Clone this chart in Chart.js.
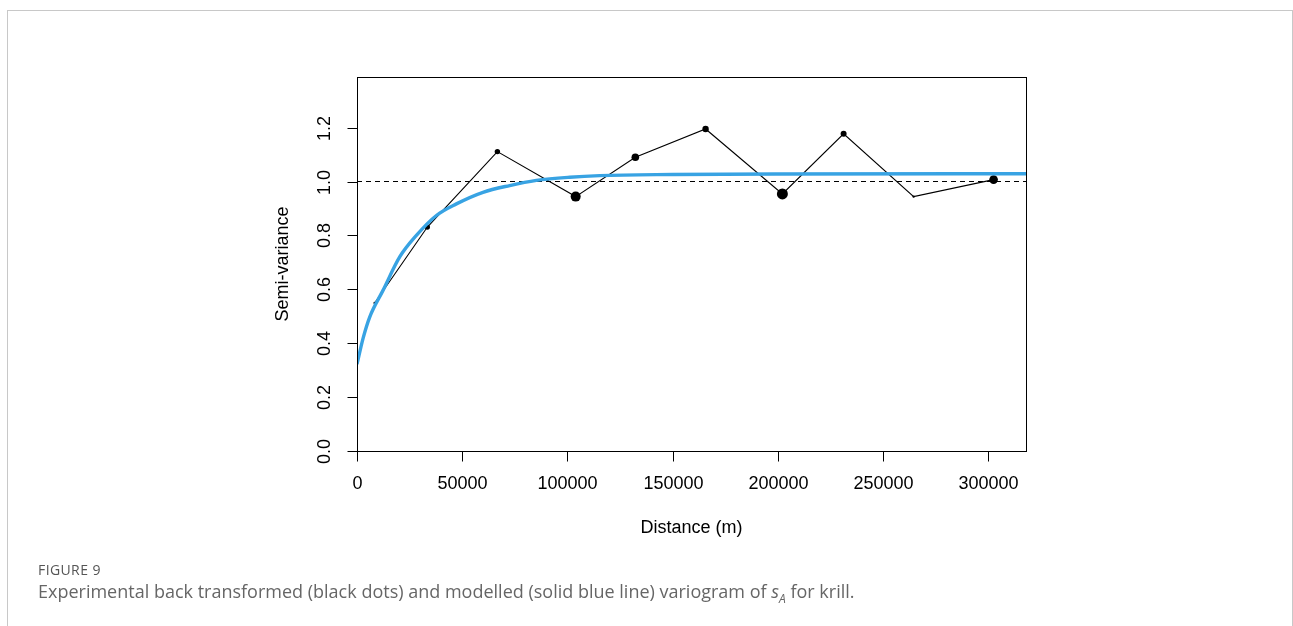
<!DOCTYPE html>
<html><head><meta charset="utf-8">
<script src="https://cdn.jsdelivr.net/npm/chart.js@4.4.0/dist/chart.umd.min.js"></script>
<style>
html,body{margin:0;padding:0;background:#fff;width:1293px;height:626px;overflow:hidden}
#frame{position:absolute;left:7px;top:10px;width:1286px;height:660px;border:1px solid #c8c8c8;box-sizing:border-box}
#c{position:absolute;left:0;top:0}
#fig{position:absolute;left:38px;top:560px;font:14px "Open Sans";color:#555;letter-spacing:0.4px}
#cap{position:absolute;left:38px;top:579px;font:18px "Open Sans";color:#666;white-space:nowrap}
</style>
</head><body>
<div id="frame"></div>
<canvas id="c" width="1293" height="626"></canvas>
<div id="fig">FIGURE 9</div>
<div id="cap">Experimental back transformed (black dots) and modelled (solid blue line) variogram of <i>s</i><sub style="font-size:12px"><i>A</i></sub> for krill.</div>
<script>
// Experimental variogram (distance m, semi-variance)
const expDistance = [8400, 33460, 66730, 103950, 132300, 165700, 202200, 231300, 264600, 302600];
const expSemiVar  = [0.549, 0.831, 1.111, 0.944, 1.090, 1.195, 0.954, 1.177, 0.944, 1.007];
// Modelled variogram
const modDistance = [0, 2850, 6040, 12360, 20300, 28230, 37740, 47240, 59890, 72580, 85270, 101100, 115350, 150000, 200000, 318000];
const modSemiVar  = [0.322, 0.417, 0.497, 0.596, 0.720, 0.800, 0.874, 0.917, 0.960, 0.985, 1.004, 1.016, 1.022, 1.026, 1.028, 1.029];
// Sill reference
const refLevel = 1.0;
const xTicks = [0, 50000, 100000, 150000, 200000, 250000, 300000];
const yTicks = [0.0, 0.2, 0.4, 0.6, 0.8, 1.0, 1.2];
const yTickLabels = ["0.0", "0.2", "0.4", "0.6", "0.8", "1.0", "1.2"];
const xRange = [0, 318000];
const yRange = [0, 1.3878];
// point sizes (relative number of pairs)
const pointRadii = [1.2, 2.6, 2.7, 5, 3.8, 3.2, 5.5, 3, 1.2, 4.3];

const FONT = '18px "Liberation Sans", Arial, sans-serif';

const rAxes = {
  id: 'rAxes',
  afterDraw(chart) {
    const ctx = chart.ctx, a = chart.chartArea;
    const xs = chart.scales.x, ys = chart.scales.y;
    ctx.save();
    ctx.strokeStyle = '#000';
    ctx.lineWidth = 1;
    ctx.strokeRect(Math.round(a.left) + 0.5, Math.round(a.top) + 0.5,
                   Math.round(a.right - a.left), Math.round(a.bottom - a.top));
    ctx.fillStyle = '#000';
    ctx.font = FONT;
    ctx.textAlign = 'center';
    ctx.textBaseline = 'middle';
    const bottom = Math.round(a.bottom) + 0.5;
    xTicks.forEach(v => {
      const px = Math.round(xs.getPixelForValue(v)) + 0.5;
      ctx.beginPath(); ctx.moveTo(px, bottom); ctx.lineTo(px, bottom + 10); ctx.stroke();
      ctx.fillText(String(v), px, bottom + 33);
    });
    const left = Math.round(a.left) + 0.5;
    yTicks.forEach((v, i) => {
      const py = Math.round(ys.getPixelForValue(v)) + 0.5;
      ctx.beginPath(); ctx.moveTo(left - 10, py); ctx.lineTo(left, py); ctx.stroke();
      ctx.save();
      ctx.translate(left - 32, py);
      ctx.rotate(-Math.PI / 2);
      ctx.fillText(yTickLabels[i], 0, 0);
      ctx.restore();
    });
    ctx.fillText('Distance (m)', (a.left + a.right) / 2, a.bottom + 77);
    ctx.save();
    ctx.translate(a.left - 74, (a.top + a.bottom) / 2);
    ctx.rotate(-Math.PI / 2);
    ctx.fillText('Semi-variance', 0, 0);
    ctx.restore();
    ctx.restore();
  }
};

new Chart(document.getElementById('c'), {
  type: 'scatter',
  data: {
    datasets: [
      {
        label: 'Model',
        data: modDistance.map((d, i) => ({x: d, y: modSemiVar[i]})),
        showLine: true,
        borderColor: '#38a3e3',
        borderWidth: 3.4,
        pointRadius: 0,
        cubicInterpolationMode: 'monotone',
        fill: false,
        order: 0
      },
      {
        label: 'Experimental',
        data: expDistance.map((d, i) => ({x: d, y: expSemiVar[i]})),
        showLine: true,
        borderColor: '#000',
        borderWidth: 1.1,
        backgroundColor: '#000',
        pointBackgroundColor: '#000',
        pointBorderWidth: 0,
        pointRadius: pointRadii,
        order: 1
      },
      {
        label: 'Sill',
        data: [{x: xRange[0], y: refLevel}, {x: xRange[1], y: refLevel}],
        showLine: true,
        borderColor: '#000',
        borderWidth: 1,
        borderDash: [5, 4],
        pointRadius: 0,
        order: 2
      }
    ]
  },
  options: {
    responsive: false,
    animation: false,
    events: [],
    layout: {padding: {left: 357, top: 77, right: 267, bottom: 175}},
    plugins: {legend: {display: false}, tooltip: {enabled: false}, title: {display: false}},
    scales: {
      x: {type: 'linear', min: xRange[0], max: xRange[1], display: false},
      y: {type: 'linear', min: yRange[0], max: yRange[1], display: false}
    }
  },
  plugins: [rAxes]
});
</script>
</body></html>
